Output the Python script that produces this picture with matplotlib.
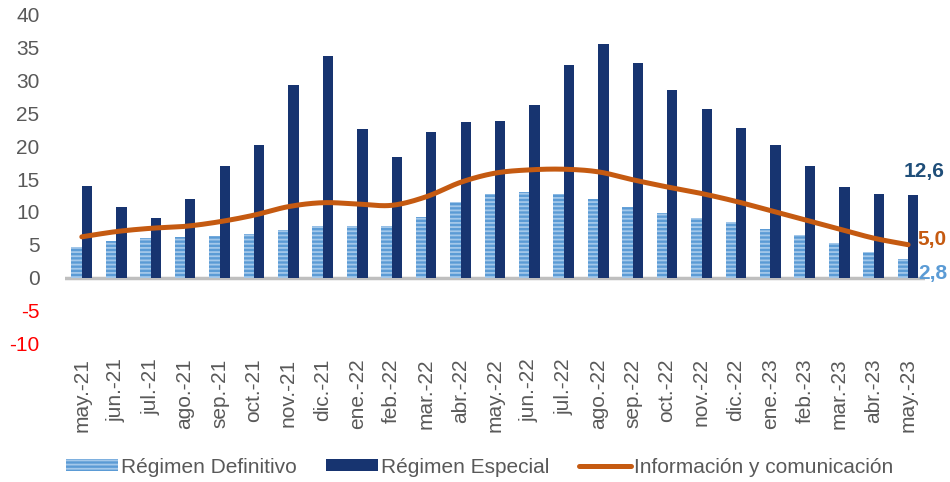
import numpy as np
import matplotlib
matplotlib.use('Agg')
from matplotlib import pyplot as plt
from matplotlib.patches import Patch
from matplotlib.lines import Line2D

# Data
months = ['may.-21', 'jun.-21', 'jul.-21', 'ago.-21', 'sep.-21', 'oct.-21',
          'nov.-21', 'dic.-21', 'ene.-22', 'feb.-22', 'mar.-22', 'abr.-22',
          'may.-22', 'jun.-22', 'jul.-22', 'ago.-22', 'sep.-22', 'oct.-22',
          'nov.-22', 'dic.-22', 'ene.-23', 'feb.-23', 'mar.-23', 'abr.-23',
          'may.-23']
definitivo = [4.6, 5.5, 6.0, 6.1, 6.3, 6.6, 7.3, 7.8, 7.8, 7.9, 9.2, 11.5,
              12.8, 13.0, 12.7, 11.9, 10.7, 9.8, 9.0, 8.4, 7.4, 6.5, 5.3,
              3.9, 2.8]
especial = [13.9, 10.8, 9.0, 12.0, 17.0, 20.2, 29.4, 33.8, 22.7, 18.4, 22.2,
            23.7, 23.9, 26.3, 32.4, 35.5, 32.7, 28.6, 25.7, 22.8, 20.2, 17.0,
            13.8, 12.8, 12.6]
info_com = [6.2, 7.0, 7.5, 7.8, 8.5, 9.5, 10.8, 11.4, 11.2, 11.0, 12.3, 14.5,
            15.9, 16.4, 16.5, 16.1, 14.9, 13.8, 12.8, 11.6, 10.2, 8.8, 7.4,
            6.0, 5.0]
yticks = [-10, -5, 0, 5, 10, 15, 20, 25, 30, 35, 40]

# Colors
C_DEF = '#5b9bd5'
C_DEF_STRIPE = '#a4c8ea'
C_ESP = '#173470'
C_LINE = '#c55a11'
C_TEXT = '#595959'

plt.rcParams['font.family'] = ['Liberation Sans', 'DejaVu Sans']
plt.rcParams['hatch.linewidth'] = 1.3


def smooth(x, y, steps=20):
    # Catmull-Rom curve through the points (like Excel's smoothed line)
    x = np.asarray(x, float)
    y = np.asarray(y, float)
    px = np.concatenate(([2 * x[0] - x[1]], x, [2 * x[-1] - x[-2]]))
    py = np.concatenate(([2 * y[0] - y[1]], y, [2 * y[-1] - y[-2]]))
    t = np.linspace(0, 1, steps, endpoint=False)
    xs, ys = [], []
    for i in range(1, len(px) - 2):
        for p, out in ((px, xs), (py, ys)):
            p0, p1, p2, p3 = p[i - 1], p[i], p[i + 1], p[i + 2]
            out.extend(0.5 * (2 * p1 + (-p0 + p2) * t
                              + (2 * p0 - 5 * p1 + 4 * p2 - p3) * t ** 2
                              + (-p0 + 3 * p1 - 3 * p2 + p3) * t ** 3))
    xs.append(x[-1])
    ys.append(y[-1])
    return np.array(xs), np.array(ys)


fig = plt.figure(figsize=(9.5, 4.82), dpi=100)
ax = fig.add_axes([0.068, 0.288, 0.906, 0.681])

x = np.arange(len(months))
w = 0.3
ax.bar(x - w / 2, definitivo, w, facecolor=C_DEF, edgecolor=C_DEF_STRIPE,
       hatch='----', linewidth=0, zorder=2)
ax.bar(x + w / 2, especial, w, color=C_ESP, linewidth=0, zorder=2)
sx, sy = smooth(x, info_com)
ax.plot(sx, sy, color=C_LINE, lw=3.6, solid_capstyle='round', zorder=3)

ax.axhline(0, color='#bfbfbf', lw=2.5, zorder=1)

ax.set_xlim(-0.5, len(months) - 0.5)
ax.set_ylim(-10, 40)
ax.set_yticks(yticks)
ax.set_yticklabels([str(v) for v in yticks])
ax.set_xticks(x)
ax.set_xticklabels(months, rotation=90, va='top', ha='center')
ax.tick_params(axis='y', length=0, pad=18, labelsize=15, labelcolor=C_TEXT)
ax.tick_params(axis='x', length=0, pad=11, labelsize=15, labelcolor=C_TEXT)
for lab, v in zip(ax.get_yticklabels(), yticks):
    if v < 0:
        lab.set_color('#ff0000')
for s in ax.spines.values():
    s.set_visible(False)

# End labels
last = len(months) - 1
ax.annotate('12,6', (last + w / 2, especial[-1]), xytext=(8, 17),
            textcoords='offset points', ha='center', va='center',
            fontsize=15, fontweight='bold', color='#1f4e79')
ax.annotate('5,0', (last, info_com[-1]), xytext=(7, 4),
            textcoords='offset points', ha='left', va='center',
            fontsize=15, fontweight='bold', color=C_LINE)
ax.annotate('2,8', (last, definitivo[-1]), xytext=(7, -10),
            textcoords='offset points', ha='left', va='center',
            fontsize=15, fontweight='bold', color=C_DEF)

handles = [
    Patch(facecolor=C_DEF, edgecolor=C_DEF_STRIPE, hatch='----', linewidth=0),
    Patch(facecolor=C_ESP, linewidth=0),
    Line2D([], [], color=C_LINE, lw=3.6, solid_capstyle='round'),
]
labels = ['Régimen Definitivo', 'Régimen Especial', 'Información y comunicación']
fig.legend(handles, labels, loc='center', bbox_to_anchor=(0.505, 0.031),
           ncol=3, frameon=False, fontsize=15, labelcolor=C_TEXT,
           handlelength=2.5, handleheight=0.55, handletextpad=0.15,
           columnspacing=1.4)

fig.savefig('out.png', dpi=100)
